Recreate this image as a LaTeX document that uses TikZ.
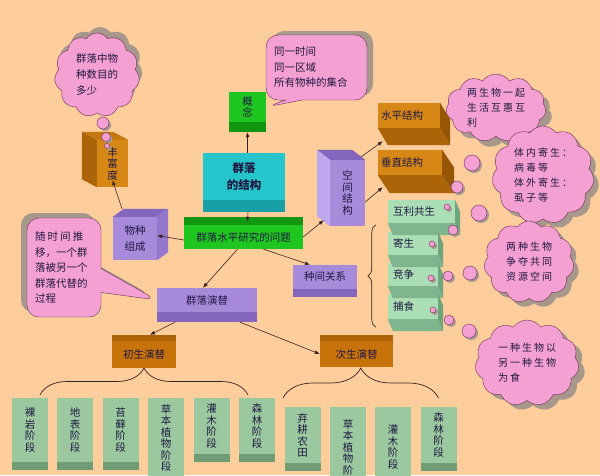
\documentclass[tikz,border=0pt]{standalone}
\usepackage{fontspec}
\usepackage{tikz}
\usetikzlibrary{shapes.symbols,shapes.callouts,shadows,decorations.pathreplacing,arrows.meta}

\newfontfamily\cjk{Noto Sans CJK SC}
\newfontfamily\cjkw[LetterSpace=20]{Noto Sans CJK SC}

\definecolor{bgc}{RGB}{253,205,156}
\definecolor{pinkc}{RGB}{245,160,210}
\definecolor{edgec}{RGB}{105,45,85}
\definecolor{shadowc}{RGB}{168,152,140}
\definecolor{textc}{RGB}{30,25,65}
\definecolor{linec}{RGB}{55,35,35}
\definecolor{orangec}{RGB}{215,135,22}
\definecolor{orangetop}{RGB}{198,120,16}
\definecolor{orangedark}{RGB}{172,100,8}
\definecolor{orangedeep}{RGB}{150,86,6}
\definecolor{brownc}{RGB}{200,115,10}
\definecolor{purplec}{RGB}{168,138,218}
\definecolor{purpletop}{RGB}{132,102,190}
\definecolor{purpledark}{RGB}{148,118,205}
\definecolor{purpleside}{RGB}{192,168,238}
\definecolor{greenc}{RGB}{32,198,32}
\definecolor{greendark}{RGB}{18,150,18}
\definecolor{cyanc}{RGB}{36,198,204}
\definecolor{cyandark}{RGB}{24,160,166}
\definecolor{mintc}{RGB}{172,222,182}
\definecolor{mintdark}{RGB}{128,182,142}
\definecolor{mintdeep}{RGB}{110,165,125}
\definecolor{stagec}{RGB}{156,200,160}
\definecolor{stagedark}{RGB}{112,156,118}

\tikzset{
  box/.style={inner sep=2pt, align=center, text=textc, font=\cjk\fontsize{10.5}{13}\selectfont},
  vtext/.style={font=\cjk\fontsize{10.5}{11.5}\selectfont},
  band/.style 2 args={general shadow={fill=#1, shadow yshift=-#2}},
  topband/.style 2 args={general shadow={fill=#1, shadow yshift=#2}},
  mint/.style={fill=mintc, text width=40pt, align=left, inner xsep=5pt, minimum height=23pt},
  stage/.style={fill=stagec, band={stagedark}{8pt}, minimum width=36pt, anchor=north, font=\cjk\fontsize{10.5}{11.5}\selectfont},
  cloudbox/.style={cloud, cloud puffs=11, cloud puff arc=110, cloud ignores aspect, draw=edgec, fill=pinkc, text=textc, align=left, inner sep=0pt, font=\cjkw\fontsize{10}{15}\selectfont},
  talk/.style={rectangle callout, rounded corners=12pt, draw=edgec, fill=pinkc, text=textc, align=left, inner xsep=8pt, font=\cjk\fontsize{10.5}{15.5}\selectfont},
  shade/.style 2 args={drop shadow={shadow xshift=#1, shadow yshift=#2, fill=shadowc, opacity=1}},
  puff/.style={draw=edgec, fill=pinkc, shade={2pt}{-2pt}},
  link/.style={draw=linec, line width=0.6pt, -{Latex[length=5pt,width=4pt]}},
  curly/.style={draw=linec, line width=0.7pt, decorate, decoration={brace, amplitude=#1}},
}

\begin{document}
\begin{tikzpicture}[x=1pt,y=1pt]

% Draw the background
\useasboundingbox (0,0) rectangle (600,-475);
\fill[bgc] (0,0) rectangle (600,-475);

% Draw the clouds
\node[cloudbox, shade={3pt}{6pt}, minimum width=85pt, minimum height=84pt, font=\cjk\fontsize{10.5}{16}\selectfont] (c1) at (97,-75) {群落中物\\种数目的\\多少};
\node[cloudbox, shade={6pt}{-6pt}, minimum width=100pt, minimum height=68pt] (c2) at (496,-108) {两生物一起\\生活互惠互\\利};
\node[cloudbox, shade={5pt}{-5pt}, minimum width=102pt, minimum height=98pt] (c3) at (543,-175) {体内寄生：\\病毒等\\体外寄生：\\虱子等};
\node[cloudbox, shade={5pt}{-5pt}, minimum width=90pt, minimum height=82pt] (c4) at (529,-262) {两种生物\\争夺共同\\资源空间};
\node[cloudbox, shade={6pt}{-5pt}, minimum width=104pt, minimum height=86pt] (c5) at (527,-363) {一种生物以\\另一种生物\\为食};

% Draw the boxes of the map
\node[box, vtext, fill=greenc, band={greendark}{10pt}, minimum width=37pt, minimum height=30pt] (gn) at (247.5,-107) {概\\念};
\node[box, fill=cyanc, band={cyandark}{12pt}, minimum width=82pt, minimum height=47pt, font=\cjk\bfseries\fontsize{11.5}{17}\selectfont] (jg) at (244,-176.5) {群落\\的结构};
\node[box, fill=greenc, topband={greendark}{8pt}, minimum width=119pt, minimum height=24pt] (wt) at (243.5,-237) {群落水平研究的问题};
\node[box, vtext, fill=purplec, minimum width=35pt, minimum height=66pt] (kj) at (347.5,-193) {空\\间\\结\\构};
\node[box, fill=orangec, text width=56pt, align=left, inner xsep=3pt, minimum height=25pt] (sp) at (409,-115.5) {水平结构};
\node[box, fill=orangec, text width=58pt, align=left, inner xsep=3pt, minimum height=25pt] (cz) at (410,-162.5) {垂直结构};
\node[box, vtext, fill=orangec, minimum width=31pt, minimum height=47pt] (ffd) at (112.5,-163.5) {丰\\富\\度};
\node[box, fill=purplec, minimum width=44pt, minimum height=43pt, font=\cjk\fontsize{10.5}{16}\selectfont] (wz) at (135,-238.5) {物种\\组成};
\node[box, fill=purplec, band={purpletop}{8pt}, minimum width=64pt, minimum height=24pt] (zj) at (325,-277) {种间关系};
\node[box, fill=purplec, band={purpletop}{10pt}, minimum width=100pt, minimum height=24pt] (yt) at (207,-300) {群落演替};
\node[box, fill=brownc, topband={orangedark}{6pt}, minimum width=64pt, minimum height=27pt] (cs) at (144,-354.5) {初生演替};
\node[box, fill=brownc, topband={orangedark}{6pt}, minimum width=73pt, minimum height=26pt] (ds) at (356.5,-354) {次生演替};

% Kinds of relations between species
\node[box, mint, text width=57pt] (hl) at (421.5,-211.5) {互利共生};
\node[box, mint] (jsh) at (413,-243.5) {寄生};
\node[box, mint] (jz) at (413,-274.5) {竞争};
\node[box, mint, minimum height=25pt] (bs) at (413,-306.5) {捕食};

% Draw the sides of the boxes
\foreach \n/\dx/\dy/\pa/\pb/\pc/\fa/\fb in {
    ffd/-15/8/north west/north east/south west/orangetop/orangedark,
    wz/11/8/north east/north west/south east/purpletop/purpledark,
    kj/-13/10/north west/north east/south west/purpletop/purpleside,
    sp/10/-17/south east/south west/north east/orangedark/orangedeep,
    cz/12/-18/south east/south west/north east/orangedark/orangedeep,
    hl/5/-12/south east/south west/north east/mintdark/mintdeep,
    jsh/5/-12/south east/south west/north east/mintdark/mintdeep,
    jz/5/-12/south east/south west/north east/mintdark/mintdeep,
    bs/5/-12/south east/south west/north east/mintdark/mintdeep}
{
  \fill[\fa] (\n.\pa) -- (\n.\pb) -- ++(\dx,\dy) -- ([shift={(\dx,\dy)}]\n.\pa) -- cycle;
  \fill[\fb] (\n.\pa) -- (\n.\pc) -- ++(\dx,\dy) -- ([shift={(\dx,\dy)}]\n.\pa) -- cycle;
}

% Speech bubbles
\node[talk, shade={6pt}{4pt}, callout absolute pointer={(gn.east)}, callout pointer width=16pt, text width=85pt, minimum height=65pt] (b1) at (316.5,-67.5) {同一时间\\同一区域\\所有物种的集合};
\node[talk, shade={-6pt}{5pt}, callout absolute pointer={(yt.west)}, callout pointer width=24pt, text width=58pt, minimum height=99pt] (b2) at (64,-267.5) {{\cjkw 随时间推}\\移，一个群\\落被另一个\\群落代替的\\过程};

% Stages of the succession
\foreach \x/\y/\h/\t/\n in {30/398/64/裸\\岩\\阶\\段/s1, 75/398/64/地\\表\\阶\\段/s2, 120.5/398/64/苔\\藓\\阶\\段/s3,
    166/398/80/草\\本\\植\\物\\阶\\段/s4, 211.5/398/56/灌\\木\\阶\\段/s5, 257/398/56/森\\林\\阶\\段/s6,
    302.5/407/56/弃\\耕\\农\\田/t1, 348/407/80/草\\本\\植\\物\\阶/t2, 393/407/80/灌\\木\\阶\\段/t3, 438.5/407/56/森\\林\\阶\\段/t4}
  \node[box, stage, minimum height=\h pt] (\n) at (\x,-\y) {\t};

% Thought bubbles
\foreach \x/\y/\r in {103/123/6, 106/137/4.5, 107/146/2.5, 472/163/8, 457/187/6, 447/207/3, 479/213/8, 453/230/5,
    432/244/3, 431/278/3, 448/276/5, 470/273/7, 433/310/3, 449/320/5, 469/331/7}
  \filldraw[puff] (\x,-\y) circle (\r pt);

% Draw the arrows
\draw[link] (gn.south |- jg.north) -- ([yshift=-10pt]gn.south);
\draw[link] ([xshift=4pt,yshift=-12pt]jg.south) -- ([xshift=4pt,yshift=3pt]wt.north);
\draw[link] (wt.east) -- ([shift={(-6pt,6pt)}]kj.south west);
\draw[link] ([shift={(-4pt,3pt)}]kj.north east) -- ([shift={(5pt,-13pt)}]sp.south west);
\draw[link] ([yshift=-9pt]kj.east) -- ([shift={(5pt,-12pt)}]cz.south west);
\draw[link] ([xshift=20pt]wt.south) -- ([xshift=-15pt]zj.north);
\draw[link] ([yshift=-3pt]wt.west) -- ([yshift=3pt]wz.east);
\draw[link] ([shift={(-13pt,8pt)}]wz.north) -- ([yshift=7pt]ffd.south);
\draw[link] ([xshift=-6pt]wt.south) -- ([xshift=-4pt]yt.north);
\draw[link] ([shift={(-32pt,-10pt)}]yt.south) -- ([shift={(6pt,6pt)}]cs.north);
\draw[link] ([shift={(33pt,-10pt)}]yt.south) -- (ds.west);

% Draw the braces
\draw[curly=8pt] ([shift={(-12pt,-8pt)}]bs.south west) -- ([shift={(-12pt,7pt)}]jsh.north west);
\draw[curly=27pt] ([shift={(10pt,3pt)}]s1.north) -- ([shift={(-9pt,3pt)}]s6.north);
\draw[curly=30pt] ([shift={(-19.5pt,9pt)}]t1.north) -- ([yshift=9pt]t4.north);

\end{tikzpicture}
\end{document}
